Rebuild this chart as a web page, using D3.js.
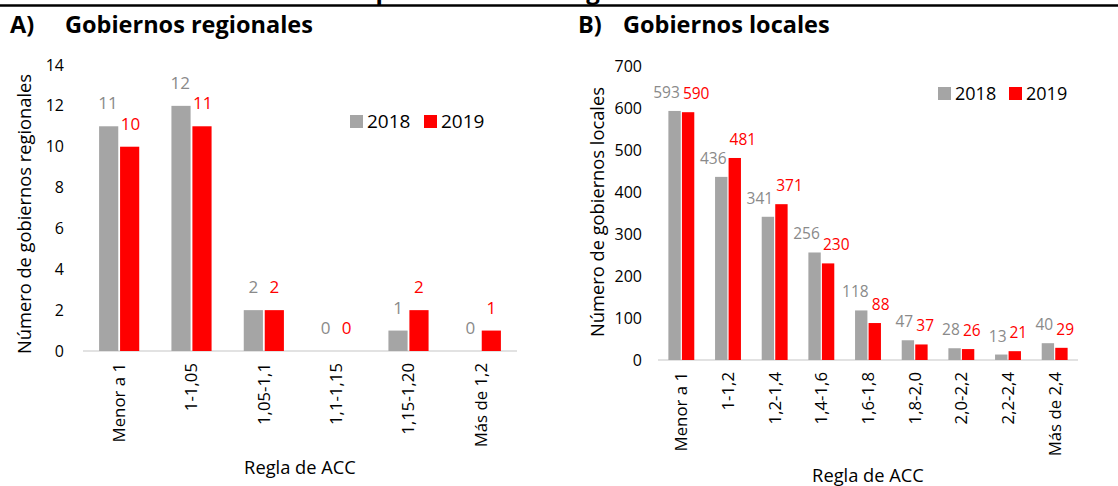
<!DOCTYPE html>
<html lang="es">
<head>
<meta charset="UTF-8">
<title>Regla de ACC</title>
<style>
    body { margin: 0; background: #fff; }
    text { font-family: "Open Sans", "Noto Sans", sans-serif; }
    .tick-y { fill: #000; font-size: 16px; }
    .tick-x { fill: #000; font-size: 16.8px; }
    .axis-title { fill: #000; font-size: 18.3px; }
    .panel-title { font-weight: bold; font-size: 23.5px; fill: #000; }
    .top-title { font-weight: bold; font-size: 24px; fill: #000; }
    .legend text { fill: #000; }
</style>
<script src="https://d3js.org/d3.v7.min.js"></script>
</head>
<body>
<script>
    // Data
    const catsRegional = ["Menor a 1", "1-1,05", "1,05-1,1", "1,1-1,15", "1,15-1,20", "Más de 1,2"];
    const regional2018 = [11, 12, 2, 0, 1, 0];
    const regional2019 = [10, 11, 2, 0, 2, 1];
    const ticksRegional = [0, 2, 4, 6, 8, 10, 12, 14];

    const catsLocal = ["Menor a 1", "1-1,2", "1,2-1,4", "1,4-1,6", "1,6-1,8", "1,8-2,0", "2,0-2,2", "2,2-2,4", "Más de 2,4"];
    const local2018 = [593, 436, 341, 256, 118, 47, 28, 13, 40];
    const local2019 = [590, 481, 371, 230, 88, 37, 26, 21, 29];
    const ticksLocal = [0, 100, 200, 300, 400, 500, 600, 700];

    const years = ["2018", "2019"];
    const barColor = { "2018": "#a5a5a5", "2019": "#ff0000" };
    const labelColor = { "2018": "#8a8a8a", "2019": "#ff0000" };

    const W = 1118, H = 486;
    const svg = d3.select("body").append("svg")
        .attr("width", W).attr("height", H);

    // figure title, clipped by the top edge, and the rule under it
    const topTitle = svg.append("text")
        .attr("class", "top-title")
        .attr("x", 0).attr("y", -1)
        .text("Cumplimiento de la regla de ACC");
    const pNode = topTitle.node();
    const pMid = (pNode.getStartPositionOfChar(3).x + pNode.getEndPositionOfChar(3).x) / 2;
    topTitle.attr("x", 383 - pMid);
    svg.append("line")
        .attr("x1", 0).attr("x2", W).attr("y1", 5.5).attr("y2", 5.5)
        .attr("stroke", "#000").attr("stroke-width", 2.5);

    function drawPanel(opt) {
        const g = svg.append("g");
        const x = d3.scaleBand().domain(opt.cats).range([opt.x0, opt.x1]);
        const y = d3.scaleLinear().domain([0, opt.ymax]).range([opt.y0, opt.yTop]);
        const bw = x.bandwidth() * 0.265;
        const gap = x.bandwidth() * 0.025;

        // titles
        g.append("text").attr("class", "panel-title")
            .attr("x", opt.letterX).attr("y", 33).text(opt.letter);
        g.append("text").attr("class", "panel-title")
            .attr("x", opt.titleX).attr("y", 33).text(opt.title);

        // y tick labels
        g.selectAll(".tick-y").data(opt.ticks).enter().append("text")
            .attr("class", "tick-y")
            .attr("x", opt.tickRight)
            .attr("y", d => y(d))
            .attr("dy", "0.35em")
            .attr("text-anchor", "end")
            .text(d => d);

        // baseline
        g.append("line")
            .attr("x1", opt.x0).attr("x2", opt.x1)
            .attr("y1", y(0)).attr("y2", y(0))
            .attr("stroke", "#d9d9d9").attr("stroke-width", 1.5);

        // bars
        const rows = [];
        opt.cats.forEach((c, i) => {
            years.forEach(yr => rows.push({ cat: c, year: yr, value: opt.series[yr][i] }));
        });
        const barX = d => x(d.cat) + x.bandwidth() / 2 + (d.year === "2018" ? -gap / 2 - bw : gap / 2);
        g.selectAll(".bar").data(rows).enter().append("rect")
            .attr("class", "bar")
            .attr("x", barX)
            .attr("width", bw)
            .attr("y", d => y(d.value))
            .attr("height", d => y(0) - y(d.value))
            .attr("fill", d => barColor[d.year]);

        // value labels, pushed apart sideways when the pair collides
        const labels = g.selectAll(".val").data(rows).enter().append("text")
            .attr("class", "val")
            .attr("x", d => barX(d) + bw / 2)
            .attr("y", d => y(d.value) - opt.labelLift)
            .attr("text-anchor", "middle")
            .attr("font-size", opt.labelSize)
            .attr("fill", d => labelColor[d.year])
            .text(d => d.value);
        const nodes = labels.nodes();
        for (let i = 0; i < nodes.length; i += 2) {
            const a = nodes[i].getBBox(), b = nodes[i + 1].getBBox();
            const vOverlap = Math.min(a.y + a.height, b.y + b.height) - Math.max(a.y, b.y);
            const hOverlap = a.x + a.width - b.x + 3;
            if (vOverlap > 2 && hOverlap > 0) {
                d3.select(nodes[i]).attr("x", a.x + a.width / 2 - hOverlap / 2);
                d3.select(nodes[i + 1]).attr("x", b.x + b.width / 2 + hOverlap / 2);
            }
        }

        // x tick labels (rotated)
        g.selectAll(".tick-x").data(opt.cats).enter().append("text")
            .attr("class", "tick-x")
            .attr("transform", d => `translate(${x(d) + x.bandwidth() / 2},${y(0) + 12}) rotate(-90)`)
            .attr("dy", "0.35em")
            .attr("text-anchor", "end")
            .text(d => d);

        // axis titles
        g.append("text").attr("class", "axis-title")
            .attr("x", (opt.x0 + opt.x1) / 2).attr("y", opt.xTitleY)
            .attr("text-anchor", "middle").text("Regla de ACC");
        g.append("text").attr("class", "axis-title")
            .attr("transform", `translate(${opt.yTitleX},${opt.yTitleY}) rotate(-90)`)
            .attr("dy", "0.35em")
            .attr("text-anchor", "middle").text(opt.yTitle);

        // legend
        const lg = g.append("g").attr("class", "legend")
            .attr("transform", `translate(${opt.legendX},${opt.legendY})`);
        years.forEach((yr, i) => {
            const item = lg.append("g").attr("transform", `translate(${i * opt.legendStep},0)`);
            item.append("rect").attr("width", 13).attr("height", 13).attr("y", -13)
                .attr("fill", barColor[yr]);
            item.append("text").attr("x", 17).attr("y", 0)
                .attr("font-size", opt.legendSize).text(yr);
        });
    }

    drawPanel({
        letter: "A)", title: "Gobiernos regionales", letterX: 10, titleX: 65,
        cats: catsRegional, series: { "2018": regional2018, "2019": regional2019 },
        ticks: ticksRegional, ymax: 14,
        x0: 83, x1: 517, y0: 351, yTop: 65, tickRight: 64,
        labelLift: 17, labelSize: 17,
        xTitleY: 474, yTitleX: 25, yTitleY: 214,
        yTitle: "Número de gobiernos regionales",
        legendX: 350, legendY: 128, legendStep: 74, legendSize: 19
    });

    drawPanel({
        letter: "B)", title: "Gobiernos locales", letterX: 578, titleX: 623,
        cats: catsLocal, series: { "2018": local2018, "2019": local2019 },
        ticks: ticksLocal, ymax: 700,
        x0: 658, x1: 1078, y0: 360, yTop: 66, tickRight: 642,
        labelLift: 13, labelSize: 15.5,
        xTitleY: 482, yTitleX: 598, yTitleY: 212,
        yTitle: "Número de gobiernos locales",
        legendX: 938, legendY: 100, legendStep: 71, legendSize: 18
    });
</script>
</body>
</html>
